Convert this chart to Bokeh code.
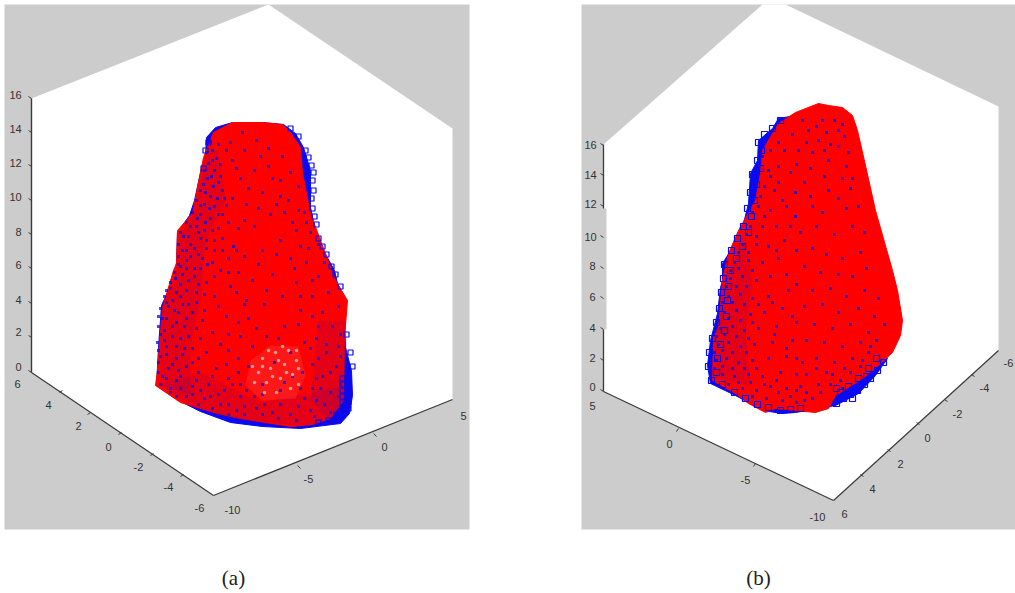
from bokeh.plotting import figure
from bokeh.embed import file_html
from bokeh.resources import INLINE
from bokeh.core.properties import value

panel_a = [(4, 4), (469, 4), (469, 529), (4, 529)]
panel_b = [(581, 4), (1015, 4), (1015, 529), (581, 529)]
hex_a = [(268, 4), (452, 128), (452, 399), (213, 495), (31, 372), (31, 98)]
hex_b = [(762, 4), (785, 4), (998, 106), (998, 350), (833, 500), (603, 391), (603, 144)]
strip_b = [(600, 208), (606, 208), (606, 329), (600, 329)]

blue_a = [(232, 122), (215, 127), (206, 137), (205, 155), (200, 172), (194, 200), (189, 215), (177, 232),
          (176, 262), (174, 275), (167, 292), (161, 305), (158, 347), (156, 385), (180, 401), (200, 411),
          (230, 422), (262, 426), (300, 428), (340, 423), (349, 413), (352, 395), (351, 370), (345, 347),
          (344, 320), (346, 300), (337, 283), (334, 270), (323, 250), (315, 230), (310, 207), (310, 170),
          (303, 147), (295, 133), (283, 124), (262, 122)]
red_a = [(232, 122), (213, 132), (203, 157), (199, 177), (192, 213), (177, 230), (176, 263), (173, 270),
         (162, 307), (159, 345), (157, 370), (155, 385), (180, 402), (217, 413), (240, 418), (290, 426),
         (312, 424), (330, 418), (343, 400), (344, 337), (347, 300), (335, 280), (323, 248), (310, 213),
         (302, 173), (300, 147), (290, 132), (282, 124), (262, 122)]
shade_a = [[(206, 150), (218, 150), (225, 200), (205, 240), (200, 300), (190, 345), (190, 395), (160, 385),
            (160, 310), (178, 265), (180, 235), (195, 210)],
           [(160, 385), (200, 372), (260, 402), (345, 385), (345, 420), (300, 425), (230, 418), (190, 405)],
           [(318, 320), (345, 320), (350, 410), (330, 420), (310, 400)]]
pale_a = [(250, 360), (270, 345), (298, 346), (305, 375), (295, 398), (262, 400), (245, 385)]

dots_a = [(212,150),(216,158),(208,163),(214,170),(220,176),(207,178),(213,186),(222,190),(205,192),(217,198),
          (226,205),(200,205),(209,208),(218,214),(197,218),(205,222),(228,222),(190,226),(212,230),(198,232),
          (183,236),(222,238),(206,240),(190,244),(233,246),(182,250),(214,250),(198,254),(186,260),(228,258),
          (207,264),(180,266),(194,268),(220,270),(238,272),(175,278),(188,280),(206,282),(170,288),(230,286),
          (196,292),(180,296),(214,296),(166,302),(188,304),(246,300),(174,310),(204,310),(162,318),(186,318),
          (226,316),(172,326),(196,328),(160,334),(212,332),(180,338),(240,336),(166,346),(192,348),(160,356),
          (176,358),(206,352),(228,350),(168,368),(186,366),(162,376),(198,372),(216,368),(176,380),(238,372),
          (192,386),(208,384),(170,388),(224,390),(186,396),(204,398),(240,396),(220,404),(256,408),(236,410),
          (272,412),(290,414),(310,410),(324,404),(304,398),(320,388),(338,396),(330,372),(312,364),(326,352),
          (338,346),(316,338),(332,326),(322,312),(338,306),(328,292),(312,296),(318,276),(306,262),(296,282),
          (300,246),(310,232),(292,222),(304,212),(288,200),(298,186),(280,196),(290,172),(272,178),(282,156),
          (268,148),(256,140),(244,150),(232,160),(240,178),(254,170),(262,192),(246,204),(232,198),(270,214),
          (254,226),(238,228),(280,240),(262,250),(244,256),(290,258),(272,274),(252,280),(236,292),(282,296),
          (264,304),(300,310),(248,318),(284,326),(228,334),(266,336),(304,342),(252,346),(290,352),(238,358),
          (274,362),(258,372),(292,376),(280,390),(262,394),(246,390),(300,388),(316,378),(298,324),(312,316)]
dots_a_more = [(210,142),(218,144),(206,152),(212,160),(220,164),(204,170),(211,176),(203,184),(218,182),(200,190),
               (210,196),(224,198),(196,200),(204,204),(214,206),(192,212),(200,214),(210,218),(222,214),(186,222),
               (196,226),(204,230),(218,228),(180,232),(188,236),(200,238),(214,240),(178,244),(186,250),(194,248),
               (206,248),(222,250),(178,256),(190,256),(202,258),(178,264),(186,268),(200,268),(212,262),(174,272),
               (182,274),(194,276),(214,276),(170,282),(180,284),(198,284),(166,290),(176,292),(186,290),(204,294),
               (164,296),(172,300),(182,304),(196,302),(160,308),(168,306),(178,312),(192,312),(158,316),(166,318),
               (176,322),(184,326),(202,320),(158,326),(164,330),(172,336),(188,336),(200,338),(157,342),(164,340),
               (176,346),(184,348),(158,350),(166,354),(182,354),(198,358),(158,362),(172,364),(178,370),(192,362),
               (158,372),(166,378),(180,376),(196,380),(160,384),(170,392),(180,388),(200,390),(176,396),(192,394),
               (212,376),(228,378),(210,396),(218,394),(232,384),(198,404),(212,408),(228,404),(244,406),(228,414),
               (244,414),(262,414),(264,404),(280,404),(298,406),(278,418),(296,420),(314,416),(330,412),(316,400),
               (330,392),(340,384),(322,376),(336,366),(318,358),(340,356),(326,344),(340,334),(310,348),(318,326),
               (300,296),(294,268),(312,280),(324,262),(308,248),(318,244),(306,222),(298,210),(284,212),(296,230),
               (280,180),(268,166),(276,204),(258,208),(248,188),(260,156),(236,168),(226,150),(242,132),(230,142),
               (244,220),(236,250),(258,264),(228,272),(276,254),(266,290),(244,304),(218,306),(256,328),(238,322),
               (220,344),(278,338),(248,366),(262,384),(284,382),(312,388),(302,372),(226,364),(240,384),(254,396)]
pale_dots_a = [(262,358),(275,352),(288,350),(258,372),(270,368),(284,364),(296,360),(266,382),(280,378),
               (292,374),(276,392),(254,382),(290,388),(282,346),(268,350),(296,350),(252,366),(264,392),
               (298,368),(272,376),(286,372),(262,366),(278,360),(298,384)]
grid_a = [(342,378),(348,378),(342,384),(348,384),(342,390),(348,390),(342,396),(348,396),(342,402),(348,402),
          (342,408),(348,408),(336,414),(342,414),(328,420),(318,422),(305,150),(308,157),(311,165),(313,172),
          (312,180),(313,190),(311,198),(312,208),(314,216),(316,224),(318,238),(322,246),(326,254),(331,266),
          (335,274),(340,286),(346,334),(350,352),(352,366),(298,136),(290,128),(208,142),(205,150),(203,168)]

blue_b = [(795, 115), (778, 118), (772, 128), (758, 140), (757, 160), (750, 173), (748, 203), (742, 227),
          (732, 247), (722, 263), (722, 280), (720, 287), (717, 313), (710, 340), (707, 365), (710, 383),
          (735, 395), (762, 410), (782, 413), (795, 412), (835, 405), (858, 393), (875, 375), (887, 358),
          (840, 300)]
red_b = [(795, 112), (818, 103), (828, 105), (842, 107), (852, 115), (857, 130), (865, 165), (875, 210),
         (892, 270), (897, 290), (902, 320), (900, 335), (892, 352), (878, 365), (862, 378), (835, 395),
         (828, 408), (815, 412), (795, 410), (775, 408), (765, 412), (748, 403), (735, 393), (712, 380),
         (713, 337), (718, 327), (722, 280), (728, 253), (738, 230), (755, 200), (760, 173), (762, 150),
         (778, 123)]
shade_b = [[(722, 285), (745, 240), (752, 280), (745, 330), (750, 385), (715, 378), (714, 335)]]

dots_b = [(770,150),(778,142),(768,170),(778,166),(764,186),(774,190),(758,206),(770,210),(782,200),(750,226),
          (762,226),(776,226),(742,244),(756,244),(768,246),(784,240),(734,262),(748,260),(762,262),(778,258),
          (730,278),(742,276),(756,280),(770,276),(728,296),(740,294),(752,298),(768,296),(788,290),(724,312),
          (736,310),(750,314),(764,312),(782,308),(720,328),(732,326),(744,330),(758,328),(776,326),(718,344),
          (728,342),(740,346),(754,344),(772,342),(792,340),(716,360),(726,358),(738,362),(752,360),(768,358),
          (786,356),(722,374),(734,376),(748,374),(762,376),(780,372),(796,374),(742,388),(756,390),(770,386),
          (786,388),(800,386),(818,384),(782,400),(796,402),(812,398),
          (808,130),(816,126),(826,132),(838,130),(806,142),(818,140),(830,144),(844,136),(798,150),(812,152),
          (824,150),(838,146),(848,152),(796,164),(810,168),(828,160),(846,166),(852,178),(842,178),(824,176),
          (804,182),(795,192),(810,196),(828,190),(850,188),(838,198),(812,206),(795,216),(822,212),(846,208),
          (858,206),(800,232),(816,226),(834,234),(852,226),(864,232),(796,250),(812,248),(826,254),(842,258),
          (860,252),(866,268),(804,266),(820,272),(838,274),(852,276),(796,284),(812,290),(830,288),(846,296),
          (864,290),(878,298),(804,306),(822,304),(838,312),(858,308),(874,316),(796,322),(814,324),(832,328),
          (850,324),(868,332),(884,324),(806,340),(824,342),(842,346),(860,342),(876,340),(796,358),(816,358),
          (834,362),(852,358),(868,352),(806,374),(826,372),(844,368),(796,390),(840,380),(860,366)]
dots_b_more = [(762,156),(770,176),(760,196),(752,212),(764,216),(746,234),(756,236),(738,252),(748,252),(730,270),
               (738,268),(752,270),(726,286),(736,286),(746,286),(722,302),(732,302),(744,304),(758,304),(718,320),
               (728,318),(740,320),(752,322),(716,336),(724,334),(736,336),(748,338),(714,352),(722,350),(732,352),
               (746,352),(714,368),(722,366),(732,368),(744,368),(756,368),(728,384),(738,382),(750,382),(764,384),
               (776,380),(752,396),(766,398),(778,392),(790,396),(806,392),(804,400),(820,392),(830,384),(842,388),
               (850,372),(862,360),(870,346),(832,374),(816,368),(802,362),(786,348),(774,334),(792,316),(772,302),
               (786,274),(776,250),(790,226),(786,206),(778,182),(790,172),(784,150),(792,134),(802,120),(822,120),
               (834,120),(842,124)]
squares_b = [(780,120),(772,128),(764,134),(758,142),(761,150),(757,160),(760,168),(752,174),(756,184),(750,192),
             (754,200),(747,208),(751,216),(743,226),(748,232),(737,238),(742,246),(731,250),(736,258),(724,264),
             (730,270),(723,278),(728,286),(721,292),(727,300),(719,308),(726,316),(716,322),(724,330),(712,338),
             (720,344),(709,352),(717,358),(708,366),(716,372),(711,380),(722,384),(734,392),(745,398),(757,404),
             (768,407),(780,410),(790,409),(800,408),(836,403),(843,398),(850,394),(857,390),(864,384),(870,378),
             (877,370),(883,362),(848,386),(858,378),(868,368),(840,392),(876,358),(836,388),(866,376),(852,398)]

z_ticks = ["16", "14", "12", "10", "8", "6", "4", "2", "0"]
a_z_x = [15, 15, 15, 15, 18, 18, 18, 18, 18]
a_z_y = [94, 128, 162, 196, 231, 264, 299, 331, 366]
a_z_t = [98, 132, 166, 200, 234, 268, 303, 337, 372]
b_z_x = [590, 590, 590, 590, 592, 592, 592, 592, 592]
b_z_y = [144, 174, 203, 236, 265, 296, 327, 357, 386]
b_z_t = [145, 175, 206, 237, 268, 298, 329, 360, 391]

a_y_ticks = ["6", "4", "2", "0", "-2", "-4", "-6"]
a_y_lx = [17, 48, 78, 108, 138, 168, 199]
a_y_ly = [383, 404, 425, 446, 466, 486, 507]
a_y_tx = [59, 87, 118, 150, 180]
a_y_ty = [392, 414, 434, 455, 476]
a_x_ticks = ["-10", "-5", "0", "5"]
a_x_lx = [232, 308, 384, 463]
a_x_ly = [509, 478, 446, 415]
a_x_tx = [297, 373]
a_x_ty = [465, 433]

b_x_ticks = ["5", "0", "-5", "-10"]
b_x_lx = [592, 669, 745, 817]
b_x_ly = [405, 443, 479, 516]
b_x_tx = [678, 755]
b_x_ty = [428, 463]
b_y_ticks = ["6", "4", "2", "0", "-2", "-4", "-6"]
b_y_lx = [844, 872, 900, 927, 957, 984, 1008]
b_y_ly = [513, 488, 463, 437, 413, 387, 362]
b_y_tx = [863, 890, 919, 947, 974]
b_y_ty = [476, 451, 424, 401, 376]

caption_text = ["(a)", "(b)"]
caption_x = [233, 758]
caption_y = [577, 577]

GRAY, BLUE, RED, INK = "#cccccc", "#0a0af0", "#ff0000", "#3a3a3a"

p = figure(width=1015, height=593, x_range=(0, 1015), y_range=(593, 0), x_axis_type=None, y_axis_type=None,
           toolbar_location=None, output_backend="svg", min_border=0)
p.grid.visible = False
p.outline_line_color = None


def xs(pts):
    return [q[0] for q in pts]


def ys(pts):
    return [q[1] for q in pts]


def poly(pts, color, alpha=1.0, line=None, lw=1.0):
    p.patch(xs(pts), ys(pts), fill_color=color, fill_alpha=alpha, line_color=line, line_width=lw)


for pan, hx in ((panel_a, hex_a), (panel_b, hex_b)):
    poly(pan, GRAY)
    poly(hx, "#ffffff")
poly(strip_b, GRAY)

poly(blue_a, BLUE, line=BLUE)
poly(red_a, RED, line=RED)
for s in shade_a:
    poly(s, "#2000c0", alpha=0.12)
poly(pale_a, "#ff6060", alpha=0.25)
p.scatter(xs(dots_a), ys(dots_a), size=3, marker="square", color=BLUE, alpha=0.75, line_width=0)
p.scatter(xs(dots_a_more), ys(dots_a_more), size=3, marker="square", color=BLUE, alpha=0.75, line_width=0)
p.scatter(xs(pale_dots_a), ys(pale_dots_a), size=3.5, color="#ffb8a8", alpha=0.8, line_width=0)
p.scatter(xs(grid_a), ys(grid_a), size=5, marker="square", fill_color=None, line_color=BLUE, line_width=1.2)

poly(blue_b, BLUE, line=BLUE)
poly(red_b, RED, line=RED)
for s in shade_b:
    poly(s, "#2000c0", alpha=0.12)
p.scatter(xs(dots_b), ys(dots_b), size=3, marker="square", color=BLUE, alpha=0.8, line_width=0)
p.scatter(xs(dots_b_more), ys(dots_b_more), size=3, marker="square", color=BLUE, alpha=0.8, line_width=0)
p.scatter(xs(squares_b), ys(squares_b), size=6, marker="square", fill_color=None, line_color=BLUE, line_width=1.2)

# axes of (a)
p.line([31, 31], [98, 372], line_color=INK, line_width=1.4)
p.line([31, 213], [372, 495], line_color=INK, line_width=1.2)
p.line([213, 452], [495, 399], line_color=INK, line_width=1.2)
p.segment([31] * 9, a_z_t, [28] * 9, [t - 2 for t in a_z_t], line_color=INK, line_width=1)
p.segment(a_y_tx, a_y_ty, [x + 3 for x in a_y_tx], [y - 2 for y in a_y_ty], line_color=INK, line_width=1)
p.segment(a_x_tx, a_x_ty, [x + 3 for x in a_x_tx], [y + 3 for y in a_x_ty], line_color=INK, line_width=1)

# axes of (b)
p.line([603, 603], [144, 208], line_color=INK, line_width=1.3)
p.line([603, 603], [329, 391], line_color=INK, line_width=1.3)
p.line([603, 833], [391, 500], line_color=INK, line_width=1.2)
p.line([833, 998], [500, 350], line_color=INK, line_width=1.2)
p.segment([603] * 9, b_z_t, [600] * 9, [t - 2 for t in b_z_t], line_color=INK, line_width=1)
p.segment(b_x_tx, b_x_ty, [x - 2 for x in b_x_tx], [y + 3 for y in b_x_ty], line_color=INK, line_width=1)
p.segment(b_y_tx, b_y_ty, [x - 3 for x in b_y_tx], [y - 2 for y in b_y_ty], line_color=INK, line_width=1)

for lab, lx, ly in ((z_ticks, a_z_x, a_z_y), (z_ticks, b_z_x, b_z_y), (a_y_ticks, a_y_lx, a_y_ly),
                    (a_x_ticks, a_x_lx, a_x_ly), (b_x_ticks, b_x_lx, b_x_ly), (b_y_ticks, b_y_lx, b_y_ly)):
    p.text(lx, ly, text=lab, text_font=value("Liberation Sans"), text_font_size="11px", text_color="#333333",
           text_align="center", text_baseline="middle")

p.text(caption_x, caption_y, text=caption_text, text_font=value("Liberation Serif"), text_font_size="21px",
       text_color="#222222", text_align="center", text_baseline="middle")

open("out.html", "w").write(file_html(p, INLINE))
